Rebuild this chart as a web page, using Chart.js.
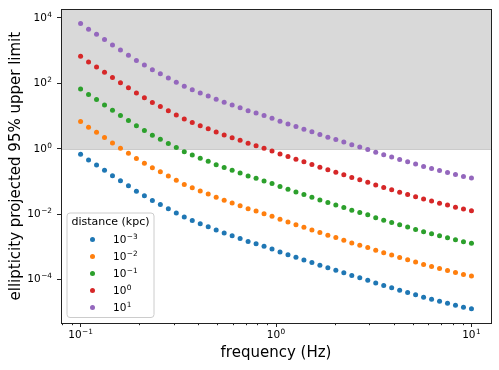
<!DOCTYPE html>
<html>
<head>
<meta charset="utf-8">
<script src="https://cdn.jsdelivr.net/npm/chart.js@4.4.1/dist/chart.umd.min.js"></script>
<style>
  html, body { margin: 0; padding: 0; background: #fff; }
  #wrap { width: 499px; height: 370px; }
</style>
</head>
<body>
<div id="wrap"><canvas id="grafica" width="499" height="370"></canvas></div>
<script>
// Frecuencias (Hz), 50 puntos log-espaciados de 0.1 a 10
const frequency = [
  0.1, 0.10985, 0.12068, 0.13257, 0.14563, 0.15999, 0.17575, 0.19307, 0.21210, 0.23300,
  0.25595, 0.28118, 0.30888, 0.33932, 0.37276, 0.40949, 0.44984, 0.49417, 0.54287, 0.59636,
  0.65513, 0.71969, 0.79060, 0.86851, 0.95410, 1.04811, 1.15140, 1.26486, 1.38950, 1.52642,
  1.67683, 1.84207, 2.02359, 2.22300, 2.44205, 2.68270, 2.94705, 3.23746, 3.55648, 3.90701,
  4.29193, 4.71487, 5.17947, 5.68987, 6.25055, 6.86649, 7.54312, 8.28643, 9.10298, 10.0
];

// Limite superior de elipticidad, una lista por distancia
const eps_d0001 = [
  6.75e-1, 4.52e-1, 3.18e-1, 2.19e-1, 1.50e-1, 1.04e-1, 7.29e-2, 5.02e-2, 3.61e-2, 2.60e-2,
  1.96e-2, 1.45e-2, 1.08e-2, 8.10e-3, 6.38e-3, 5.06e-3, 4.10e-3, 3.25e-3, 2.64e-3, 2.18e-3,
  1.80e-3, 1.46e-3, 1.24e-3, 1.03e-3, 8.57e-4, 6.94e-4, 5.74e-4, 4.75e-4, 3.96e-4, 3.28e-4,
  2.71e-4, 2.26e-4, 1.91e-4, 1.59e-4, 1.31e-4, 1.12e-4, 9.46e-5, 7.77e-5, 6.52e-5, 5.55e-5,
  4.69e-5, 3.99e-5, 3.39e-5, 2.87e-5, 2.49e-5, 2.16e-5, 1.88e-5, 1.63e-5, 1.42e-5, 1.27e-5
];
const eps_d001 = [
  6.75e0, 4.52e0, 3.18e0, 2.19e0, 1.50e0, 1.04e0, 7.29e-1, 5.02e-1, 3.61e-1, 2.60e-1,
  1.96e-1, 1.45e-1, 1.08e-1, 8.10e-2, 6.38e-2, 5.06e-2, 4.10e-2, 3.25e-2, 2.64e-2, 2.18e-2,
  1.80e-2, 1.46e-2, 1.24e-2, 1.03e-2, 8.57e-3, 6.94e-3, 5.74e-3, 4.75e-3, 3.96e-3, 3.28e-3,
  2.71e-3, 2.26e-3, 1.91e-3, 1.59e-3, 1.31e-3, 1.12e-3, 9.46e-4, 7.77e-4, 6.52e-4, 5.55e-4,
  4.69e-4, 3.99e-4, 3.39e-4, 2.87e-4, 2.49e-4, 2.16e-4, 1.88e-4, 1.63e-4, 1.42e-4, 1.27e-4
];
const eps_d01 = [
  6.75e1, 4.52e1, 3.18e1, 2.19e1, 1.50e1, 1.04e1, 7.29e0, 5.02e0, 3.61e0, 2.60e0,
  1.96e0, 1.45e0, 1.08e0, 8.10e-1, 6.38e-1, 5.06e-1, 4.10e-1, 3.25e-1, 2.64e-1, 2.18e-1,
  1.80e-1, 1.46e-1, 1.24e-1, 1.03e-1, 8.57e-2, 6.94e-2, 5.74e-2, 4.75e-2, 3.96e-2, 3.28e-2,
  2.71e-2, 2.26e-2, 1.91e-2, 1.59e-2, 1.31e-2, 1.12e-2, 9.46e-3, 7.77e-3, 6.52e-3, 5.55e-3,
  4.69e-3, 3.99e-3, 3.39e-3, 2.87e-3, 2.49e-3, 2.16e-3, 1.88e-3, 1.63e-3, 1.42e-3, 1.27e-3
];
const eps_d1 = [
  6.75e2, 4.52e2, 3.18e2, 2.19e2, 1.50e2, 1.04e2, 7.29e1, 5.02e1, 3.61e1, 2.60e1,
  1.96e1, 1.45e1, 1.08e1, 8.10e0, 6.38e0, 5.06e0, 4.10e0, 3.25e0, 2.64e0, 2.18e0,
  1.80e0, 1.46e0, 1.24e0, 1.03e0, 8.57e-1, 6.94e-1, 5.74e-1, 4.75e-1, 3.96e-1, 3.28e-1,
  2.71e-1, 2.26e-1, 1.91e-1, 1.59e-1, 1.31e-1, 1.12e-1, 9.46e-2, 7.77e-2, 6.52e-2, 5.55e-2,
  4.69e-2, 3.99e-2, 3.39e-2, 2.87e-2, 2.49e-2, 2.16e-2, 1.88e-2, 1.63e-2, 1.42e-2, 1.27e-2
];
const eps_d10 = [
  6.75e3, 4.52e3, 3.18e3, 2.19e3, 1.50e3, 1.04e3, 7.29e2, 5.02e2, 3.61e2, 2.60e2,
  1.96e2, 1.45e2, 1.08e2, 8.10e1, 6.38e1, 5.06e1, 4.10e1, 3.25e1, 2.64e1, 2.18e1,
  1.80e1, 1.46e1, 1.24e1, 1.03e1, 8.57e0, 6.94e0, 5.74e0, 4.75e0, 3.96e0, 3.28e0,
  2.71e0, 2.26e0, 1.91e0, 1.59e0, 1.31e0, 1.12e0, 9.46e-1, 7.77e-1, 6.52e-1, 5.55e-1,
  4.69e-1, 3.99e-1, 3.39e-1, 2.87e-1, 2.49e-1, 2.16e-1, 1.88e-1, 1.63e-1, 1.42e-1, 1.27e-1
];

const series = [eps_d0001, eps_d001, eps_d01, eps_d1, eps_d10];
const distanceExp = [-3, -2, -1, 0, 1];   // distancia = 10^exp kpc
const colores = ["#1f77b4", "#ff7f0e", "#2ca02c", "#d62728", "#9467bd"];

// Ticks principales
const xTicks = [0.1, 1, 10];
const yTicks = [1e-4, 1e-2, 1, 1e2, 1e4];
const limite = 1; // arriba de esto va la zona gris

const FONT = "'DejaVu Sans', sans-serif";
const SUP = { "-": "⁻", "0": "⁰", "1": "¹", "2": "²", "3": "³", "4": "⁴" };
const expDe = v => Math.round(Math.log10(v));
const potencia = e => "10" + String(e).split("").map(c => SUP[c] || c).join("");

// Dibuja "10^e" con el exponente chico y levantado, como mathtext
function dibujaPot(ctx, e, x, baseY, align, size) {
  const big = size + "px " + FONT, small = (size * 0.7).toFixed(2) + "px " + FONT;
  const txt = String(e).replace("-", "\u2212");
  ctx.font = big;
  const w1 = ctx.measureText("10").width;
  ctx.font = small;
  const w2 = ctx.measureText(txt).width;
  const tot = w1 + w2 + 0.5;
  const x0 = align === "center" ? x - tot / 2 : align === "right" ? x - tot : x;
  ctx.textAlign = "left";
  ctx.textBaseline = "alphabetic";
  ctx.font = big;
  ctx.fillText("10", x0, baseY);
  ctx.font = small;
  ctx.fillText(txt, x0 + w1 + 0.5, baseY - size * 0.38);
}

// Zona gris + borde + ticks menores + etiquetas + leyenda
const extras = {
  id: "extras",
  beforeDatasetsDraw(chart) {
    const { ctx, chartArea: a, scales: { y } } = chart;
    const y1 = Math.round(y.getPixelForValue(limite));
    ctx.save();
    ctx.fillStyle = "#d9d9d9";
    ctx.fillRect(a.left, a.top, a.right - a.left, y1 - a.top);
    ctx.strokeStyle = "#cbcbcb";
    ctx.lineWidth = 1;
    ctx.beginPath();
    ctx.moveTo(a.left, y1 + 0.5);
    ctx.lineTo(a.right, y1 + 0.5);
    ctx.stroke();
    ctx.restore();
  },
  afterDatasetsDraw(chart) {
    const { ctx, chartArea: a, scales: { x, y } } = chart;
    ctx.save();
    // ticks menores en x
    ctx.strokeStyle = "#222";
    ctx.lineWidth = 1;
    ctx.beginPath();
    for (let d = 0.01; d <= 10; d *= 10) {
      for (let m = 2; m <= 9; m++) {
        const v = m * d;
        if (v < x.min || v > x.max) continue;
        const px = Math.round(x.getPixelForValue(v)) + 0.5;
        ctx.moveTo(px, a.bottom);
        ctx.lineTo(px, a.bottom + 2.2);
      }
    }
    ctx.stroke();
    // marco
    ctx.strokeRect(Math.round(a.left) + 0.5, Math.round(a.top) + 0.5,
      Math.round(a.right - a.left), Math.round(a.bottom - a.top));

    // etiquetas de ticks
    ctx.fillStyle = "#000";
    xTicks.forEach(v => dibujaPot(ctx, expDe(v), x.getPixelForValue(v), a.bottom + 15, "center", 10.5));
    yTicks.forEach(v => dibujaPot(ctx, expDe(v), a.left - 9, y.getPixelForValue(v) + 3, "right", 10.5));

    // leyenda
    const w = 87, h = 104.5;
    const lx = a.left + 5.5, ly = a.bottom - 6 - h;
    ctx.fillStyle = "rgba(255,255,255,0.8)";
    ctx.strokeStyle = "#cccccc";
    ctx.beginPath();
    ctx.roundRect(lx + 0.5, ly + 0.5, w, h, 3);
    ctx.fill();
    ctx.stroke();
    ctx.fillStyle = "#000";
    ctx.font = "11px " + FONT;
    ctx.textBaseline = "middle";
    ctx.textAlign = "center";
    ctx.fillText("distance (kpc)", lx + w / 2 + 0.5, ly + 10);
    chart.data.datasets.forEach((ds, i) => {
      const cy = ly + 27 + i * 17;
      ctx.fillStyle = ds.backgroundColor;
      ctx.beginPath();
      ctx.arc(lx + 26, cy, 2.5, 0, Math.PI * 2);
      ctx.fill();
      ctx.fillStyle = "#000";
      dibujaPot(ctx, distanceExp[i], lx + 46.5, cy + 3, "left", 10.5);
    });
    ctx.restore();
  }
};

Chart.defaults.font.family = FONT;
Chart.defaults.color = "#000";

const datasets = series.map((vals, i) => ({
  label: potencia(distanceExp[i]),
  data: frequency.map((f, j) => ({ x: f, y: vals[j] })),
  backgroundColor: colores[i],
  borderWidth: 0,
  pointRadius: 2.5,
  pointHoverRadius: 2.5,
  showLine: false
}));

// las etiquetas de Chart.js quedan invisibles; se pintan con dibujaPot
const ejeComun = {
  type: "logarithmic",
  border: { display: false },
  grid: { display: true, drawOnChartArea: false, drawTicks: true, tickLength: 4, tickColor: "#222", tickWidth: 1 },
  ticks: { autoSkip: false, maxRotation: 0, padding: 3, font: { size: 10.5 }, color: "rgba(0,0,0,0)",
           callback: v => potencia(expDe(v)) }
};

new Chart(document.getElementById("grafica"), {
  type: "scatter",
  data: { datasets },
  options: {
    responsive: false,
    animation: false,
    layout: { padding: { top: 8, right: 8, left: 0, bottom: 0 } },
    plugins: { legend: { display: false }, tooltip: { enabled: false } },
    scales: {
      x: {
        ...ejeComun,
        min: 0.0794,
        max: 12.59,
        afterBuildTicks: s => { s.ticks = xTicks.map(v => ({ value: v })); },
        afterFit: s => { s.height = 47; },
        title: { display: true, text: "frequency (Hz)", font: { size: 15 }, padding: { top: 0, bottom: 8 } }
      },
      y: {
        ...ejeComun,
        min: 4.65e-6,
        max: 1.84e4,
        afterBuildTicks: s => { s.ticks = yTicks.map(v => ({ value: v })); },
        afterFit: s => { s.width = 61; },
        title: { display: true, text: "ellipticity projected 95% upper limit", font: { size: 15 }, padding: { top: 7, bottom: 0 } }
      }
    }
  },
  plugins: [extras]
});
</script>
</body>
</html>
